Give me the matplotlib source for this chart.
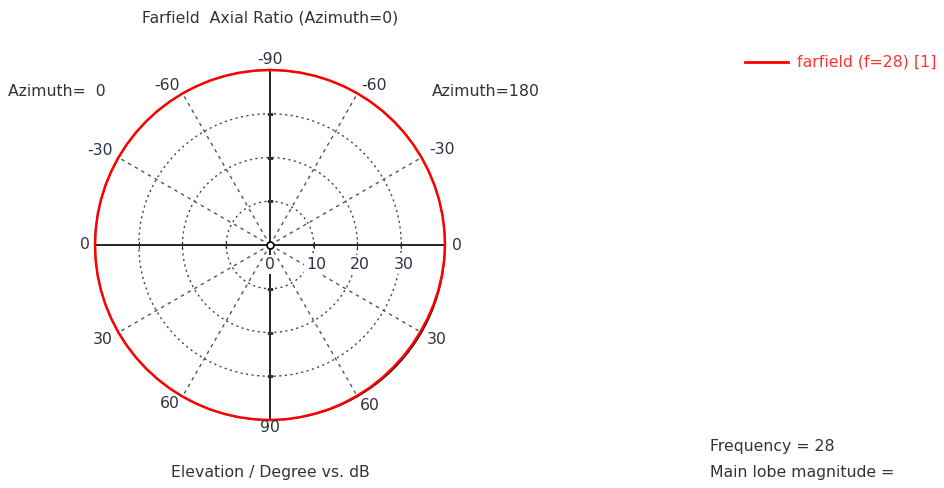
import numpy as np
import matplotlib
matplotlib.use("Agg")
import matplotlib.pyplot as plt

# axial ratio (dB) vs elevation, azimuth = 0 side and azimuth = 180 side
elev = list(range(-90, 91, 5))
ar_az0 = [40] * 37
ar_az180 = [40, 40, 40, 40, 40, 40, 40, 40, 40, 40, 40, 40, 40, 40, 40, 40, 40, 40, 40,
            39.95, 39.9, 39.85, 39.8, 39.75, 39.7, 39.7, 39.7, 39.7, 39.75, 39.8, 39.8,
            39.85, 39.9, 39.9, 39.95, 40, 40]

r_ticks = [0, 10, 20, 30]
r_max = 40
angle_labels = [-90, -60, -30, 0, 30, 60, 90]

txt_col = "#333333"
lbl_col = "#2e3344"
fs = 11.3

# label placement around the circle: (dx, dy) in pixels from the centre
left_pos = {-90: (0, 185), -60: (-103, 160), -30: (-170, 95), 0: (-185, 0),
            30: (-167, -95), 60: (-100, -158), 90: (0, -182)}
right_pos = {-60: (104, 160), -30: (172, 95), 0: (187, 0), 30: (167, -95),
             60: (100, -160)}
px_per_unit = 175 / r_max


# elevation -> polar angle (radians) for each half of the plot
def left_phi(e):
    return np.deg2rad(180 + np.asarray(e, dtype=float))


def right_phi(e):
    return np.deg2rad(-np.asarray(e, dtype=float))


def put_label(ax, text, dx, dy):
    ax.text(np.arctan2(dy, dx), np.hypot(dx, dy) / px_per_unit, text, ha="center",
            va="center", fontsize=fs, color=lbl_col, clip_on=False)


fig = plt.figure(figsize=(9.45, 4.88), dpi=100)
ax = fig.add_axes([95 / 945, 68 / 488, 350 / 945, 350 / 488], projection="polar")
ax.set_ylim(0, r_max)
ax.grid(False)
ax.set_xticks([])
ax.set_yticks([])
ax.spines["polar"].set_color("black")
ax.spines["polar"].set_linewidth(1.0)

# dotted range circles
full = np.linspace(0, 2 * np.pi, 361)
for r in r_ticks[1:]:
    ax.plot(full, np.full_like(full, r), color="#444444", lw=1.0, ls=(0, (1.5, 2.5)))

# dashed spokes every 30 deg, solid axes
for a in range(0, 360, 30):
    t = np.deg2rad(a)
    if a % 90 == 0:
        ax.plot([t, t], [0, r_max], color="black", lw=1.2)
    else:
        ax.plot([t, t], [0, r_max], color="#555555", lw=1.0, ls=(0, (2.5, 3)))

# little tick marks on the axes
for r in [10, 20, 30]:
    for a in [0, 180]:
        ax.plot(np.deg2rad(a), r, marker="|", ms=5, color="#333333", mew=0.8)
    for a in [90, 270]:
        ax.plot(np.deg2rad(a), r, marker="_", ms=4, color="#333333", mew=0.8)
ax.plot(0, 0, marker="o", ms=5, mfc="white", mec="black", mew=1.2, zorder=4)

# the curve, drawn above the outer circle
ax.plot(left_phi(elev), ar_az0, color="#ff0000", lw=1.8, clip_on=False, zorder=3)
ax.plot(right_phi(elev), ar_az180, color="#ff0000", lw=1.8, clip_on=False, zorder=3)

# angle labels around the circle
for e in angle_labels:
    put_label(ax, str(e), *left_pos[e])
    if e in right_pos:
        put_label(ax, str(e), *right_pos[e])

# radial labels below the horizontal axis
for r in r_ticks:
    ax.annotate(str(r), xy=(0, r), xytext=(2 if r else 0, -14), textcoords="offset points",
                ha="center", va="center", fontsize=fs, color=lbl_col, zorder=5,
                bbox=dict(boxstyle="square,pad=0.15", fc="white", ec="none"))

fig.text(270 / 945, 1 - 18 / 488, "Farfield  Axial Ratio (Azimuth=0)", ha="center",
         va="center", fontsize=fs, color=txt_col)
fig.text(270 / 945, 1 - 472 / 488, "Elevation / Degree vs. dB", ha="center",
         va="center", fontsize=fs, color=txt_col)
fig.text(8 / 945, 1 - 92 / 488, "Azimuth=  0", ha="left", va="center", fontsize=fs,
         color=txt_col)
fig.text(432 / 945, 1 - 92 / 488, "Azimuth=180", ha="left", va="center", fontsize=fs,
         color=txt_col)

# legend
fig.add_artist(plt.Line2D([745 / 945, 788 / 945], [1 - 62 / 488, 1 - 62 / 488],
                          color="#ff0000", lw=2))
fig.text(797 / 945, 1 - 62 / 488, "farfield (f=28) [1]", ha="left", va="center",
         fontsize=fs, color="#ff3333")

fig.text(710 / 945, 1 - 447 / 488, "Frequency = 28", ha="left", va="center",
         fontsize=fs, color=txt_col)
fig.text(710 / 945, 1 - 472 / 488, "Main lobe magnitude =", ha="left", va="center",
         fontsize=fs, color=txt_col)

fig.savefig("out.png", dpi=100, facecolor="white")
